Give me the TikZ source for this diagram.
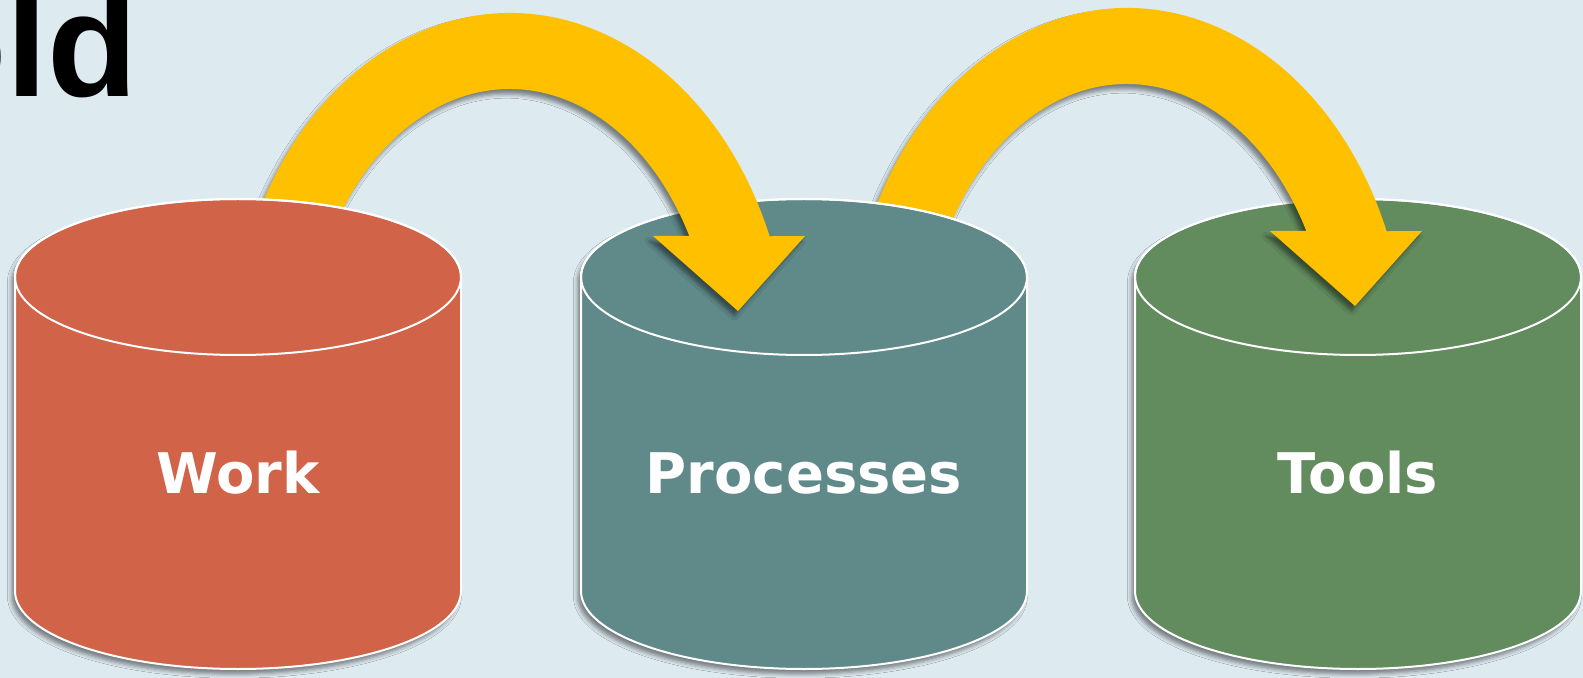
\documentclass[tikz,border=0pt]{standalone}
\usepackage{fontspec}
\setmainfont{Liberation Sans}
\newfontfamily\drumfont{DejaVu Sans}
\usetikzlibrary{shadows.blur,calc}

\definecolor{bgblue}{HTML}{DDEAF0}
\definecolor{workred}{HTML}{D16349}
\definecolor{procteal}{HTML}{60898A}
\definecolor{toolgreen}{HTML}{628B5E}
\definecolor{bendgold}{HTML}{FFC000}

\tikzset{
  softshadow/.style={blur shadow={shadow xshift=-1.8pt, shadow yshift=-2.6pt,
      shadow blur radius=2pt, shadow opacity=45}},
  drumbody/.style={draw=white, line width=1pt, softshadow},
  % a cylinder whose origin is the centre of its top ellipse
  barrel/.pic={
    \path[drumbody, fill=#1]
      (-223,0) -- (-223,-314)
      arc[start angle=180, end angle=360, x radius=223, y radius=78]
      -- (223,0)
      arc[start angle=0, end angle=180, x radius=223, y radius=78] -- cycle;
    \draw[white, line width=1pt] (0,0) ellipse[x radius=223, y radius=78];
  },
  % a thick elliptic band ending in a downward head; origin = centre of the arcs
  bentarrow/.pic={
    \path[fill=bendgold, softshadow]
      (158.6:280 and 357)
      arc[start angle=158.6, end angle=22, x radius=280, y radius=357]
      -- (295,134) -- (228,59) -- (143,134)
      -- (28.5:204 and 281)
      arc[start angle=28.5, end angle=155, x radius=204, y radius=281]
      -- cycle;
  },
  drumlabel/.style={text=white, inner sep=0pt, anchor=base,
    font=\drumfont\bfseries\fontsize{28}{28}\selectfont},
}

\begin{document}
\begin{tikzpicture}[x=0.5pt, y=0.5pt]
  \useasboundingbox (0,0) rectangle (1583,-678);
  \clip (0,0) rectangle (1583,-678);
  \fill[bgblue] (0,0) rectangle (1583,-678);

  % centres of the top ellipses and of the two bends
  \coordinate (topW) at (238,-277);
  \coordinate (topP) at (804,-277);
  \coordinate (topT) at (1358,-277);
  \coordinate (bendWP) at (510,-370);
  \coordinate (bendPT) at (1127,-365);

  % back to front: each bend starts under one drum and ends over the next
  \pic at (topT) {barrel=toolgreen};
  \pic at (bendPT) {bentarrow};
  \pic at (topP) {barrel=procteal};
  \pic at (bendWP) {bentarrow};
  \pic at (topW) {barrel=workred};

  \node[drumlabel] (work)  at ($(topW)+(0,-216)$) {Work};
  \node[drumlabel] (proc)  at ($(topP)+(0,-216)$) {Processes};
  \node[drumlabel] (tools) at ($(topT)+(0,-216)$) {Tools};

  \node[anchor=base west, inner sep=0pt, text=black,
        font=\fontsize{74}{74}\selectfont\bfseries] (title) at (-84,-97) {old};
\end{tikzpicture}
\end{document}
